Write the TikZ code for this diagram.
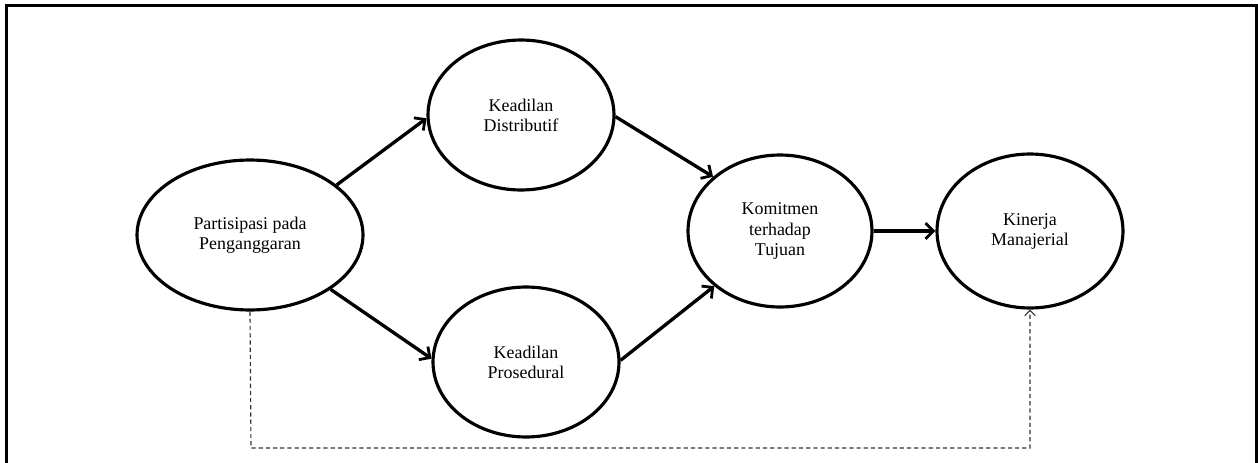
\documentclass[tikz,border=0pt]{standalone}
\usepackage{fontspec}
\setmainfont{Liberation Serif}
\usetikzlibrary{shapes.geometric,arrows.meta}
\begin{document}
\begin{tikzpicture}[x=0.02cm,y=-0.02cm,
  construct/.style={draw,ellipse,line width=1.8pt,inner sep=0pt,align=center,
    font=\fontsize{10.2}{11.4}\selectfont},
  path/.style={line width=1.9pt,-{Straight Barb[length=4.5pt,width=9pt,line width=1.6pt]}},
  direct/.style={line width=0.65pt,dash pattern=on 2.4pt off 1.7pt,black!80,
    -{Straight Barb[length=3pt,width=6pt,line width=0.65pt]}}]
\useasboundingbox (0,0) rectangle (1258,463);
\begin{scope}
\clip (0,0) rectangle (1258,463);
\draw[line width=1.7pt] (6.5,5.5) rectangle (1256,490);
\end{scope}

\node[construct,minimum width=4.52cm,minimum height=3.0cm] (pp) at (250,235) {Partisipasi pada\\Penganggaran};
\node[construct,minimum width=3.72cm,minimum height=3.0cm] (kd) at (521,115) {Keadilan\\Distributif};
\node[construct,minimum width=3.72cm,minimum height=3.0cm] (kp) at (526,362) {Keadilan\\Prosedural};
\node[construct,minimum width=3.68cm,minimum height=3.04cm] (kt) at (780,231) {Komitmen\\terhadap\\Tujuan};
\node[construct,minimum width=3.72cm,minimum height=3.08cm] (km) at (1030,231) {Kinerja\\Manajerial};

\draw[path] (pp.30) -- (kd.182);
\draw[path] (pp.-34) -- (kp.178);
\draw[path] (kd.-1) -- (kt.141);
\draw[path] (kp.1) -- (kt.220);
\draw[path] (kt.0) -- (km.180);

\coordinate (c1) at (251,448);
\coordinate (c2) at (1030,448);
\draw[direct] (pp.south) -- (c1) -- (c2) -- (km.south);
\end{tikzpicture}
\end{document}
